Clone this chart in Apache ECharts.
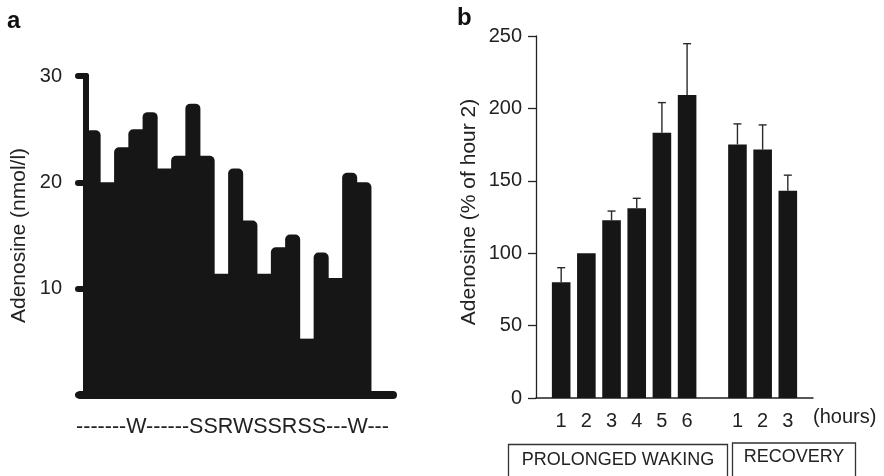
<!DOCTYPE html>
<html>
<head>
<meta charset="utf-8">
<script src="https://cdn.jsdelivr.net/npm/echarts@6/dist/echarts.min.js"></script>
<style>
  html, body { margin: 0; padding: 0; background: #fff; }
  #chart { width: 884px; height: 476px; }
</style>
</head>
<body>
<div id="chart"></div>
<script>
// ---- Panel a: adenosine concentration per sample (nmol/l) ----
const stateCodes = '-------W------SSRWSSRSS---W---';
const adenosineA = [24.9, 20.0, 23.3, 25.0, 26.6, 21.3, 22.5, 27.4, 22.5, 11.4,
                    21.3, 16.4, 11.4, 13.9, 15.1, 5.3, 13.4, 11.0, 20.9, 20.0];
const yTicksA = [0, 10, 20, 30];

// ---- Panel b: adenosine as % of hour 2, mean and SEM ----
const wakingHours = ['1', '2', '3', '4', '5', '6'];
const wakingMean = [80, 100, 122.7, 131, 183.2, 209.3];
const wakingSem = [10, 0, 6.4, 6.9, 20.8, 35.4];
const recoveryHours = ['1', '2', '3'];
const recoveryMean = [175.1, 171.6, 143.2];
const recoverySem = [14.2, 17.0, 10.7];
const yTicksB = [0, 50, 100, 150, 200, 250];

const INK = '#161616';
const TEXT = '#222';
const FONT = '"Liberation Sans", Arial, Helvetica, sans-serif';

// Panel a: [slot centre, value, left radius, right radius]; contiguous bars whose
// top corners are rounded only where they stand above a neighbour
const barsA = adenosineA.map((v, i) => {
  const left = (i === 0 || adenosineA[i - 1] < v) ? 5 : 0;
  const right = (i === adenosineA.length - 1 || adenosineA[i + 1] < v) ? 5 : 0;
  return [i + 0.5, v, left, right];
});

// Panel b: one empty slot at each end and one between the two phases
const slotsB = ['', ...wakingHours, '', ...recoveryHours, ''];
const meansB = ['-', ...wakingMean, '-', ...recoveryMean, '-'];
const semsB = [null, ...wakingSem, null, ...recoverySem, null];
const errorsB = [];
meansB.forEach((m, i) => {
  if (m !== '-' && semsB[i] > 0) errorsB.push([i, m, m + semsB[i]]);
});

const chart = echarts.init(document.getElementById('chart'), null, { renderer: 'canvas' });

chart.setOption({
  animation: false,
  backgroundColor: '#fff',
  textStyle: { fontFamily: FONT, color: TEXT },
  grid: [
    { left: 80, top: 76, width: 313, height: 319, containLabel: false, outerBoundsMode: 'none' },
    { left: 536, top: 36, width: 277, height: 362, containLabel: false, outerBoundsMode: 'none' }
  ],
  xAxis: [
    {
      // a small negative start leaves a white gap between the y axis and the first bar
      gridIndex: 0, type: 'value', min: -0.42, max: 21.54,
      axisLine: { show: true, lineStyle: { color: INK, width: 8, cap: 'round' } },
      axisTick: { show: false }, axisLabel: { show: false }, splitLine: { show: false },
      name: stateCodes, nameLocation: 'middle', nameGap: 21,
      nameTextStyle: { fontSize: 21.5, color: TEXT, fontFamily: FONT, padding: [0, 8, 0, 0] }
    },
    {
      gridIndex: 1, type: 'category', data: slotsB, boundaryGap: false,
      axisLine: { show: true, lineStyle: { color: TEXT, width: 1.5 } },
      axisTick: { show: false },
      axisLabel: { interval: 0, margin: 13, fontSize: 20, color: TEXT, fontFamily: FONT },
      splitLine: { show: false },
      name: '(hours)', nameLocation: 'end', nameGap: 0, nameMoveOverlap: false,
      nameTextStyle: { fontSize: 20, color: TEXT, fontFamily: FONT, align: 'left',
                       verticalAlign: 'top', lineHeight: 38 }
    }
  ],
  yAxis: [
    {
      gridIndex: 0, type: 'value', min: yTicksA[0], max: yTicksA[yTicksA.length - 1],
      interval: yTicksA[1] - yTicksA[0],
      axisLine: { show: true, lineStyle: { color: INK, width: 6 } },
      axisTick: { show: true, length: 8, lineStyle: { color: INK, width: 6, cap: 'round' } },
      axisLabel: { margin: 18, fontSize: 20, color: TEXT, fontFamily: FONT,
                   formatter: v => (v === 0 ? '' : String(v)) },
      splitLine: { show: false },
      name: 'Adenosine (nmol/l)', nameLocation: 'middle', nameGap: 50, nameMoveOverlap: false,
      nameTextStyle: { fontSize: 21, color: TEXT, fontFamily: FONT }
    },
    {
      gridIndex: 1, type: 'value', min: yTicksB[0], max: yTicksB[yTicksB.length - 1],
      interval: yTicksB[1] - yTicksB[0],
      axisLine: { show: true, lineStyle: { color: TEXT, width: 1.3 } },
      axisTick: { show: true, length: 8, lineStyle: { color: TEXT, width: 1.3 } },
      axisLabel: { margin: 14, fontSize: 20, color: TEXT, fontFamily: FONT },
      splitLine: { show: false },
      name: 'Adenosine (% of hour 2)', nameLocation: 'middle', nameGap: 56, nameMoveOverlap: false,
      nameTextStyle: { fontSize: 21, color: TEXT, fontFamily: FONT, padding: [0, 0, 0, 10] }
    }
  ],
  series: [
    {
      // each bar fills its whole unit slot, widened slightly so neighbours overlap
      type: 'custom', xAxisIndex: 0, yAxisIndex: 0,
      data: barsA, z: 2,
      renderItem(params, api) {
        const c = api.value(0);
        const bottomLeft = api.coord([c - 0.5, 0]);
        const topRight = api.coord([c + 0.5, api.value(1)]);
        return {
          type: 'rect',
          shape: {
            x: bottomLeft[0] - 0.4,
            y: topRight[1],
            width: topRight[0] - bottomLeft[0] + 0.8,
            height: bottomLeft[1] - topRight[1],
            r: [api.value(2), api.value(3), 0, 0]
          },
          style: { fill: INK }
        };
      }
    },
    {
      type: 'bar', xAxisIndex: 1, yAxisIndex: 1,
      data: meansB, barWidth: 18.6,
      itemStyle: { color: INK }
    },
    {
      type: 'custom', xAxisIndex: 1, yAxisIndex: 1,
      data: errorsB, z: 3,
      renderItem(params, api) {
        const base = api.coord([api.value(0), api.value(1)]);
        const top = api.coord([api.value(0), api.value(2)]);
        const half = 4;
        const style = { stroke: '#2a2a2a', lineWidth: 1.4 };
        return {
          type: 'group',
          children: [
            { type: 'line', shape: { x1: base[0], y1: base[1], x2: top[0], y2: top[1] }, style },
            { type: 'line', shape: { x1: top[0] - half, y1: top[1], x2: top[0] + half, y2: top[1] }, style }
          ]
        };
      }
    }
  ],
  graphic: [
    { type: 'text', left: 7, top: 9, style: { text: 'a', font: 'bold 24px ' + FONT, fill: '#111' } },
    { type: 'text', left: 457, top: 6, style: { text: 'b', font: 'bold 24px ' + FONT, fill: '#111' } },
    { type: 'rect', shape: { x: 508.5, y: 444.5, width: 219, height: 50 },
      style: { fill: 'none', stroke: '#333', lineWidth: 1.3 } },
    { type: 'text', x: 618, y: 460, style: { text: 'PROLONGED WAKING', font: '18px ' + FONT,
      fill: TEXT, align: 'center', verticalAlign: 'middle' } },
    { type: 'rect', shape: { x: 732.5, y: 443, width: 123, height: 50 },
      style: { fill: 'none', stroke: '#333', lineWidth: 1.3 } },
    { type: 'text', x: 794, y: 457, style: { text: 'RECOVERY', font: '18px ' + FONT,
      fill: TEXT, align: 'center', verticalAlign: 'middle' } }
  ]
});
</script>
</body>
</html>
